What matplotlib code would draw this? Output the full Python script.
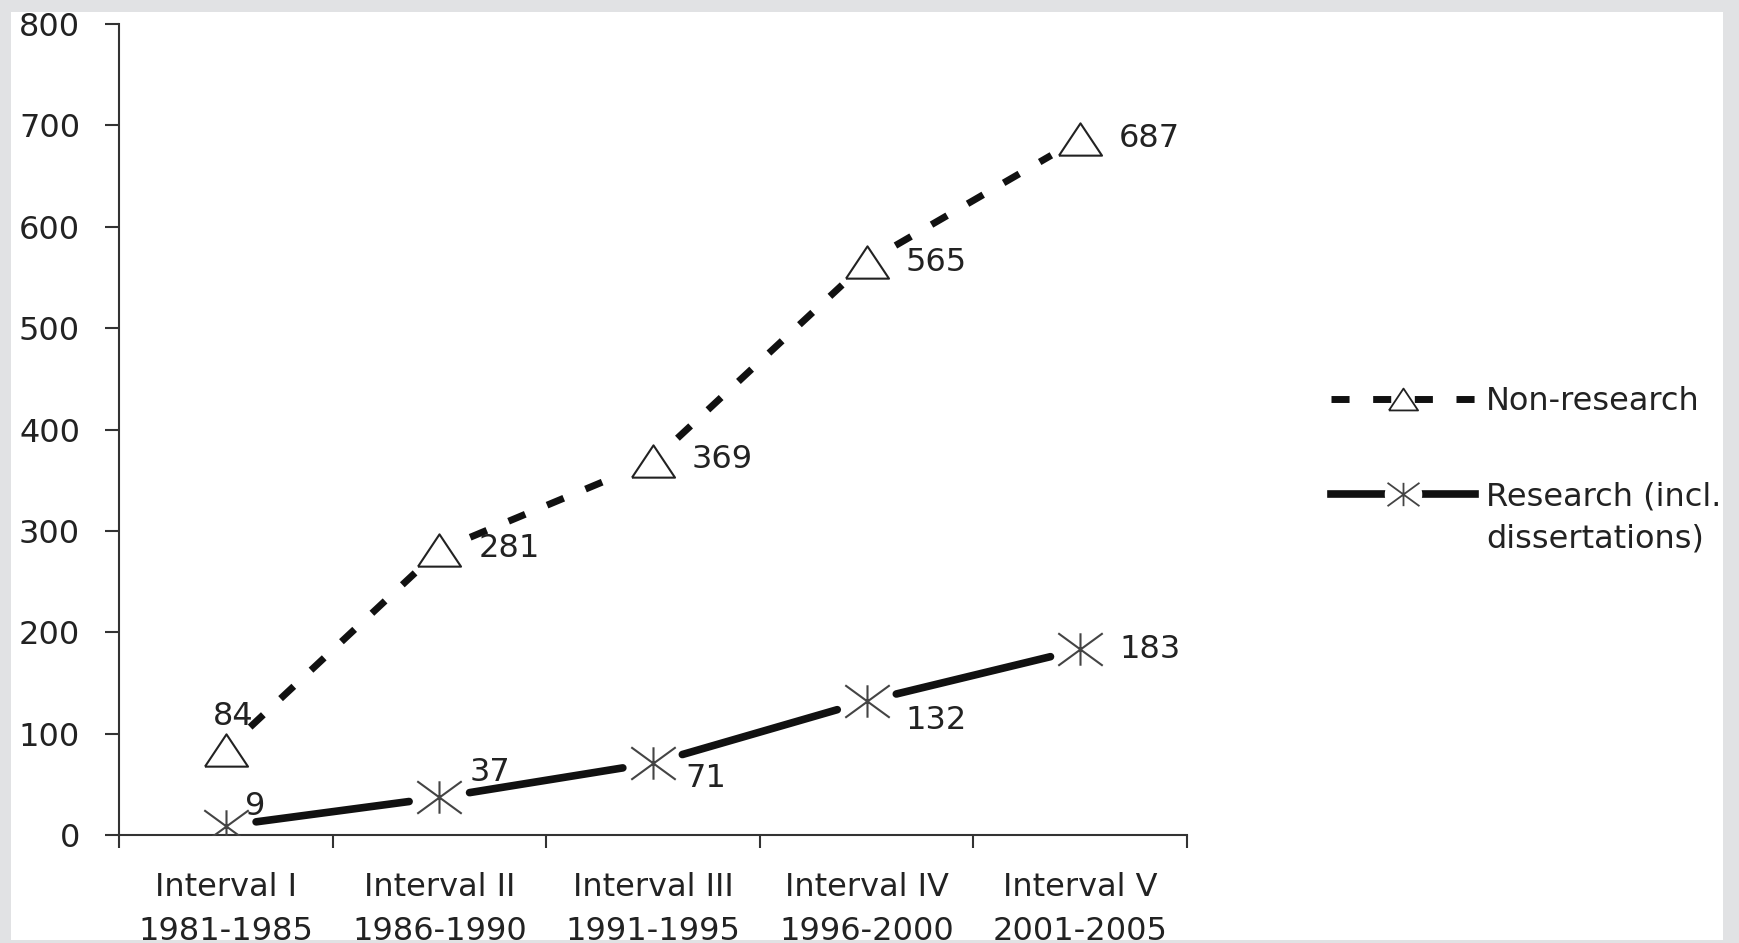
import numpy as np
import matplotlib.pyplot as plt
from matplotlib.lines import Line2D
from matplotlib.patches import Rectangle
from matplotlib.path import Path
from matplotlib.legend_handler import HandlerTuple

plt.rcParams['font.family'] = ['DejaVu Sans']

# ---- data ----
intervals = ["Interval I", "Interval II", "Interval III", "Interval IV", "Interval V"]
periods = ["1981-1985", "1986-1990", "1991-1995", "1996-2000", "2001-2005"]
non_research = [84, 281, 369, 565, 687]
research = [9, 37, 71, 132, 183]

# label offsets in points (dx, dy)
non_research_offsets = [(5, 24), (28, 1), (28, 1), (28, 0), (28, 0)]
research_offsets = [(14, 14), (22, 18), (23, -11), (28, -14), (28, 0)]

TEXT = "#222222"
LINE = "#111111"
FS = 23

# open triangle, wider than tall
tri = [(-1, -0.75), (1, -0.75), (0, 0.75), (-1, -0.75)]
# x with a vertical bar through it
star = Path([(-1, -0.73), (1, 0.73), (-1, 0.73), (1, -0.73), (0, -0.73), (0, 0.73)],
            [Path.MOVETO, Path.LINETO, Path.MOVETO, Path.LINETO, Path.MOVETO, Path.LINETO])

fig = plt.figure(figsize=(17.39, 9.43), dpi=100)
ax = fig.add_axes([119 / 1739, 1 - 835 / 943, (1187 - 119) / 1739, (835 - 24) / 943])

x = np.arange(len(intervals))

# segments stop short of the markers
for i in range(len(x) - 1):
    ax.annotate("", xy=(x[i + 1], non_research[i + 1]), xytext=(x[i], non_research[i]),
                arrowprops=dict(arrowstyle="-", color=LINE, lw=5, shrinkA=24, shrinkB=24,
                                linestyle=(0, (2.6, 3.4)), capstyle="butt"))
    ax.annotate("", xy=(x[i + 1], research[i + 1]), xytext=(x[i], research[i]),
                arrowprops=dict(arrowstyle="-", color=LINE, lw=5.5, shrinkA=22, shrinkB=22))

ax.plot(x, non_research, linestyle="none", marker=tri, markersize=31,
        markerfacecolor="white", markeredgecolor="#222222", markeredgewidth=1.5, zorder=3)
ax.plot(x, research, linestyle="none", marker=star, markersize=32,
        markerfacecolor="none", markeredgecolor="#444444", markeredgewidth=1.5, zorder=3)

for xi, v, (dx, dy) in zip(x, non_research, non_research_offsets):
    ha = "center" if dx < 10 else "left"
    ax.annotate(str(v), (xi, v), xytext=(dx, dy), textcoords="offset points",
                ha=ha, va="center", fontsize=FS, color=TEXT)
for xi, v, (dx, dy) in zip(x, research, research_offsets):
    ax.annotate(str(v), (xi, v), xytext=(dx, dy), textcoords="offset points",
                ha="left", va="center", fontsize=FS, color=TEXT)

# axes styling
ax.set_xlim(-0.5, len(x) - 0.5)
ax.set_ylim(0, 800)
ax.set_yticks(np.arange(0, 801, 100))
ax.set_xticks(np.arange(-0.5, len(x)))
ax.set_xticklabels([])
ax.set_xticks(x, minor=True)
ax.set_xticklabels([f"{a}\n{b}" for a, b in zip(intervals, periods)], minor=True,
                   fontsize=FS, color=TEXT, linespacing=1.5)
ax.tick_params(axis="x", which="major", direction="out", length=9, width=1.5, color="#333333")
ax.tick_params(axis="x", which="minor", length=0, pad=27)
ax.tick_params(axis="y", direction="out", length=10, width=1.5, color="#333333",
               labelsize=FS, labelcolor=TEXT, pad=18)
for s in ["top", "right"]:
    ax.spines[s].set_visible(False)
for s in ["left", "bottom"]:
    ax.spines[s].set_color("#333333")
    ax.spines[s].set_linewidth(1.5)
ax.spines["left"].set_bounds(0, 800)

# legend
h_non = (Line2D([], [], color=LINE, lw=5, linestyle=(0, (2.6, 3.4))),
         Line2D([], [], marker=tri, markersize=21, markerfacecolor="white",
                markeredgecolor="#222222", markeredgewidth=1.3, linestyle="none"))
h_res = (Line2D([], [], color=LINE, lw=5.5),
         Line2D([], [], linestyle="none", marker="o", markersize=27,
                markerfacecolor="white", markeredgecolor="none"),
         Line2D([], [], marker=star, markersize=23, markerfacecolor="none",
                markeredgecolor="#444444", markeredgewidth=1.3, linestyle="none"))
leg = fig.legend([h_non, h_res], ["Non-research", "Research (incl."],
                 handler_map={tuple: HandlerTuple(ndivide=1, pad=0)},
                 loc="upper left", bbox_to_anchor=(1331 / 1739, 1 - 386 / 943),
                 frameon=False, borderpad=0, borderaxespad=0, handlelength=4.5,
                 handletextpad=0.35, labelspacing=2.02, fontsize=FS, labelcolor=TEXT)

# second line of the research label, under the first one
fig.canvas.draw()
bb = leg.get_texts()[1].get_window_extent()
fig.text(bb.x0 / fig.bbox.width, (bb.y0 - 42 + bb.height / 2) / fig.bbox.height,
         "dissertations)", fontsize=FS, color=TEXT, ha="left", va="center")

# light grey frame around the picture
grey = "#e1e2e4"
for rect in [(0, 0, 11 / 1739, 1), (1723 / 1739, 0, 16 / 1739, 1),
             (0, 1 - 12 / 943, 1, 12 / 943), (0, 0, 1, 3 / 943)]:
    fig.add_artist(Rectangle(rect[:2], rect[2], rect[3], transform=fig.transFigure,
                             facecolor=grey, edgecolor="none", zorder=10))

fig.savefig("out.png", dpi=100)
